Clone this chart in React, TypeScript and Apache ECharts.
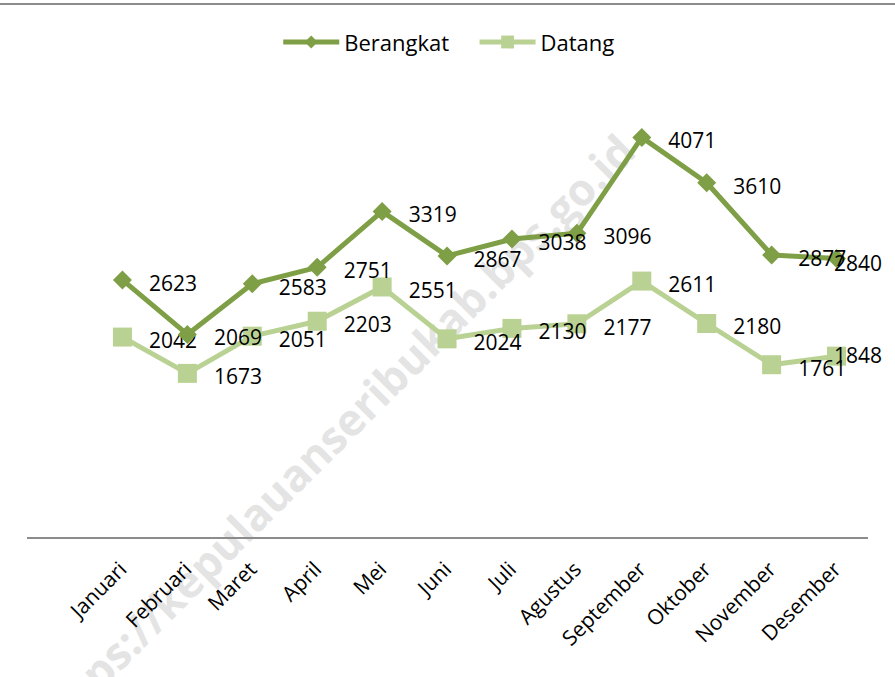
import React, { useEffect, useRef } from "react";
import * as echarts from "echarts";

const months = [
  "Januari", "Februari", "Maret", "April", "Mei", "Juni",
  "Juli", "Agustus", "September", "Oktober", "November", "Desember",
];
const berangkat = [2623, 2069, 2583, 2751, 3319, 2867, 3038, 3096, 4071, 3610, 2877, 2840];
const datang = [2042, 1673, 2051, 2203, 2551, 2024, 2130, 2177, 2611, 2180, 1761, 1848];
const seriesNames = ["Berangkat", "Datang"];
const watermark = "https://kepulauanseribukab.bps.go.id";

const FONT = "'Open Sans', sans-serif";
const C_BER = "#7E9F45";
const C_DAT = "#B9D293";

export default function App() {
  const ref = useRef<HTMLDivElement>(null);
  useEffect(() => {
    if (!ref.current) return;
    const chart = echarts.init(ref.current, null, { renderer: "svg" });
    const labelCfg = {
      show: true,
      position: "right",
      distance: 17,
      offset: [0, 3],
      color: "#000",
      fontSize: 21,
      fontFamily: FONT,
    };
    // the last label is pushed back inside the chart, as in the reference
    const withLastLabel = (arr: number[], dy: number) =>
      arr.map((v, i) =>
        i === arr.length - 1 ? { value: v, label: { offset: [-29, dy] } } : v
      );
    chart.setOption({
      animation: false,
      backgroundColor: "#fff",
      textStyle: { fontFamily: FONT },
      graphic: [
        {
          type: "text",
          z: -10,
          x: 626,
          y: 142,
          rotation: Math.PI / 4,
          style: {
            text: watermark,
            fill: "#e4e4e4",
            font: `bold 44px ${FONT}`,
            textAlign: "right",
            textVerticalAlign: "middle",
          },
        },
        {
          type: "line",
          shape: { x1: 0, y1: 4, x2: 895, y2: 4 },
          style: { stroke: "#8c8c8c", lineWidth: 2 },
        },
        {
          type: "line",
          shape: { x1: 27, y1: 538, x2: 868, y2: 538 },
          style: { stroke: "#8c8c8c", lineWidth: 2 },
        },
      ],
      legend: {
        data: seriesNames,
        top: 26,
        left: "center",
        itemWidth: 56,
        itemHeight: 16,
        itemGap: 28,
        lineStyle: { width: 5 },
        textStyle: { fontSize: 22, color: "#000", fontFamily: FONT },
      },
      grid: { left: 90, right: 26, top: 46, bottom: 139, containLabel: false },
      xAxis: {
        type: "category",
        data: months,
        boundaryGap: true,
        axisLine: { show: false },
        axisTick: { show: false },
        axisLabel: {
          rotate: 45,
          margin: 27,
          interval: 0,
          color: "#000",
          fontSize: 21,
          fontFamily: FONT,
        },
      },
      yAxis: {
        type: "value",
        min: 0,
        max: 5000,
        show: false,
        splitLine: { show: false },
      },
      series: [
        {
          name: seriesNames[0],
          type: "line",
          data: withLastLabel(berangkat, 4),
          symbol: "diamond",
          symbolSize: 19,
          lineStyle: { color: C_BER, width: 5 },
          itemStyle: { color: C_BER },
          label: labelCfg,
          z: 3,
        },
        {
          name: seriesNames[1],
          type: "line",
          data: withLastLabel(datang, -1),
          symbol: "rect",
          symbolSize: 19,
          lineStyle: { color: C_DAT, width: 5 },
          itemStyle: { color: C_DAT },
          label: labelCfg,
          z: 2,
        },
      ],
    });
    return () => chart.dispose();
  }, []);
  return (
    <div
      ref={ref}
      style={{ position: "fixed", left: 0, top: 0, width: 895, height: 677 }}
    />
  );
}
